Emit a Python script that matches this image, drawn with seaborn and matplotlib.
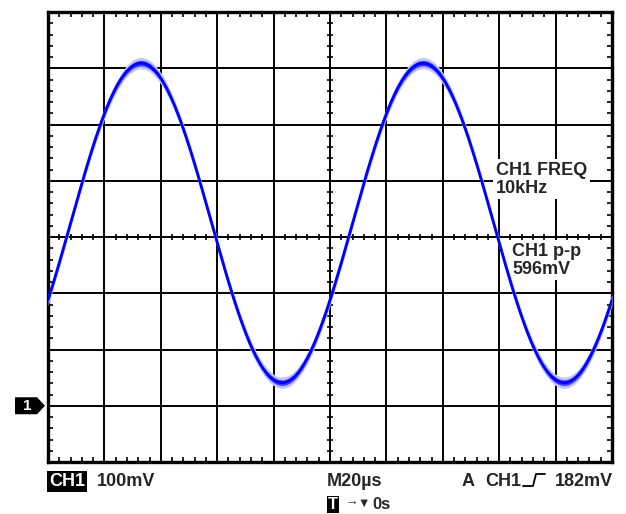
import numpy as np
import pandas as pd
import matplotlib
matplotlib.use("Agg")
import matplotlib.pyplot as plt
import matplotlib.transforms as mtransforms
from matplotlib.patches import Polygon
from matplotlib.lines import Line2D
import seaborn as sns

# scope screen settings
time_per_div_us = 20
mv_per_div = 100
n_xdiv = 10
n_ydiv = 8
screen_center_mv = 300
ground_mv = 0

# CH1 trace
freq_khz = 10
amp_mv = 284
offset_mv = 325
peak_time_us = -67
noise_mv = 10

# readouts
freq_label = "CH1 FREQ\n10kHz"
pp_label = "CH1 p-p\n596mV"
ch_label = "CH1"
scale_label = "100mV"
time_label = "M20µs"
trig_mode = "A"
trig_src = "CH1"
trig_level = "182mV"
trig_pos = "0s"

W, H = 626, 514


def px(x, y):
    # pixel position -> figure fraction
    return x / W, 1 - y / H


sns.set_style("white")
plt.rcParams['font.family'] = ['Liberation Sans', 'DejaVu Sans']
plt.rcParams['font.weight'] = 'bold'

fig = plt.figure(figsize=(W / 100, H / 100), dpi=100)
ax = fig.add_axes([48 / W, 1 - 462 / H, (612 - 48) / W, (462 - 12) / H])

half_t = n_xdiv / 2 * time_per_div_us
half_v = n_ydiv / 2 * mv_per_div
ax.set_xlim(-half_t, half_t)
ax.set_ylim(screen_center_mv - half_v, screen_center_mv + half_v)

# graticule
major_x = np.arange(-half_t, half_t + 1, time_per_div_us)
major_y = np.arange(screen_center_mv - half_v, screen_center_mv + half_v + 1, mv_per_div)
minor_x = np.arange(-half_t, half_t + 1, time_per_div_us / 5)
minor_y = np.arange(screen_center_mv - half_v, screen_center_mv + half_v + 1, mv_per_div / 5)
ax.set_xticks(major_x)
ax.set_yticks(major_y)
ax.set_xticks(minor_x, minor=True)
ax.set_yticks(minor_y, minor=True)
ax.tick_params(which='major', length=0, labelbottom=False, labelleft=False)
ax.tick_params(which='minor', direction='in', length=3.8, width=1.2, color='black',
               top=True, right=True, bottom=True, left=True)
ax.grid(True, which='major', color='black', lw=1.4)
for s in ax.spines.values():
    s.set_linewidth(2.4)
    s.set_color('black')

# ticks along the center lines
ax.plot(minor_x, np.full(len(minor_x), screen_center_mv), ls='none', marker='|',
        ms=5, mew=1.2, color='black', zorder=1)
ax.plot(np.zeros(len(minor_y)), minor_y, ls='none', marker='_',
        ms=5, mew=1.2, color='black', zorder=1)

# trace
t = np.linspace(-half_t, half_t, 1500)
v = offset_mv + amp_mv * np.cos(2 * np.pi * freq_khz / 1000 * (t - peak_time_us))
df = pd.DataFrame({'t': t, 'v': v})
ax.fill_between(df['t'], df['v'] - noise_mv, df['v'] + noise_mv, color='#c2c2ff', lw=0, zorder=3)
ax.fill_between(df['t'], df['v'] - noise_mv / 2, df['v'] + noise_mv / 2, color='#4040ff', lw=0, zorder=3)
sns.lineplot(data=df, x='t', y='v', ax=ax, color='#0000ff', lw=2.0, zorder=4)
ax.set_xlabel('')
ax.set_ylabel('')

# measurement readouts
box = dict(boxstyle='square,pad=0.15', fc='white', ec='none')
ax.text(*ax.transData.inverted().transform(fig.transFigure.transform(px(496, 162))),
        freq_label, fontsize=13, fontweight='bold', va='top', ha='left',
        linespacing=1.05, bbox=box, zorder=2)
ax.text(*ax.transData.inverted().transform(fig.transFigure.transform(px(512, 243))),
        pp_label, fontsize=13, fontweight='bold', va='top', ha='left',
        linespacing=1.05, bbox=box, zorder=2)

# ground marker
blend = mtransforms.blended_transform_factory(fig.transFigure, ax.transData)
d = 8.5 / 56.25 * mv_per_div
marker = Polygon([(15 / W, ground_mv + d), (37 / W, ground_mv + d), (45 / W, ground_mv),
                  (37 / W, ground_mv - d), (15 / W, ground_mv - d)],
                 closed=True, fc='black', ec='none', transform=blend, clip_on=False)
fig.add_artist(marker)
fig.text(27 / W, ground_mv, '1', transform=blend, color='white', fontsize=11,
         fontweight='bold', ha='center', va='center')

# bottom status line
fs = 13
fig.text(*px(49, 486), ch_label, color='white', fontsize=fs, fontweight='bold',
         bbox=dict(boxstyle='square,pad=0.1', fc='black', ec='none'))
fig.text(*px(97, 486), scale_label, fontsize=fs, fontweight='bold')
fig.text(*px(327, 486), time_label, fontsize=fs, fontweight='bold')
fig.text(*px(462, 486), trig_mode, fontsize=fs, fontweight='bold')
fig.text(*px(485, 486), trig_src, fontsize=fs, fontweight='bold')
fig.text(*px(555, 486), trig_level, fontsize=fs, fontweight='bold')
edge = [px(523, 486), px(533, 486), px(536, 474), px(545, 474)]
fig.add_artist(Line2D([p[0] for p in edge], [p[1] for p in edge], color='black', lw=1.3,
                      transform=fig.transFigure))

fs2 = 12
fig.text(*px(328, 509), 'T', color='white', fontsize=fs2, fontweight='bold',
         bbox=dict(boxstyle='square,pad=0.06', fc='black', ec='none'))
fig.text(*px(345, 506), '→', fontsize=9, fontweight='bold')
fig.text(*px(357, 507), '▼', fontsize=9, fontweight='bold')
fig.text(*px(372, 509), trig_pos, fontsize=fs2, fontweight='bold')

fig.savefig('out.png', dpi=100, facecolor='white')
